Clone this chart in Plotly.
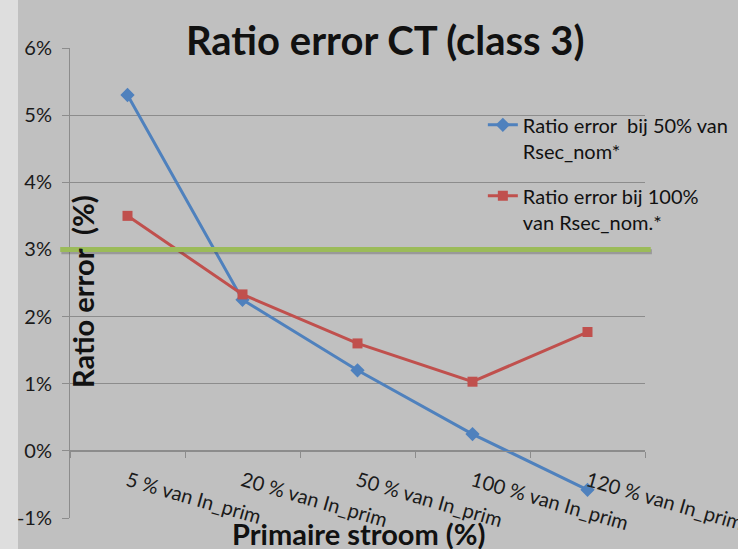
import plotly.graph_objects as go

categories = ["5 % van In_prim", "20 % van In_prim", "50 % van In_prim",
              "100 % van In_prim", "120 % van In_prim"]
ratio_50 = [5.3, 2.25, 1.2, 0.25, -0.58]
ratio_100 = [3.5, 2.33, 1.6, 1.03, 1.77]
limit = 3
y_ticks = [-1, 0, 1, 2, 3, 4, 5, 6]
y_tick_labels = [f"{v}%" for v in y_ticks]

name_50 = "Ratio error&nbsp; bij 50% van<br>Rsec_nom*"
name_100 = "Ratio error bij 100%<br>van Rsec_nom.*"

FONT = "Lato, 'Open Sans', sans-serif"
BG = "#c0c0c0"
GRID = "#8c8c8c"

fig = go.Figure()
fig.add_trace(go.Scatter(
    x=categories, y=ratio_50, name=name_50, mode="lines+markers",
    line=dict(color="#4f81bd", width=3),
    marker=dict(symbol="diamond", size=11, color="#4f81bd"),
    legendgroup="a"))
fig.add_trace(go.Scatter(
    x=categories, y=ratio_100, name=name_100, mode="lines+markers",
    line=dict(color="#c0504d", width=3),
    marker=dict(symbol="square", size=10, color="#c0504d"),
    legendgroup="b"))

# limit line (with soft shadow)
fig.add_shape(type="line", xref="paper", yref="y", x0=-0.015, x1=1.012,
              y0=limit - 0.035, y1=limit - 0.035,
              line=dict(color="rgba(80,80,80,0.35)", width=5), layer="above")
fig.add_shape(type="line", xref="paper", yref="y", x0=-0.017, x1=1.01,
              y0=limit, y1=limit,
              line=dict(color="#9bbb59", width=5), layer="above")

# light strip on the left
fig.add_shape(type="rect", xref="paper", yref="paper",
              x0=-80/575, x1=-52/575, y0=-1, y1=2,
              fillcolor="#dedede", line=dict(width=0), layer="below")

fig.update_layout(
    width=738, height=549,
    paper_bgcolor=BG, plot_bgcolor=BG,
    margin=dict(l=70, r=93, t=48, b=31, autoexpand=False),
    font=dict(family=FONT, color="#1a1a1a"),
    title=dict(text="<b>Ratio error CT (class 3)</b>", x=0.522, xanchor="center",
               y=0.925, yanchor="middle", yref="container",
               font=dict(size=40, color="#111", family=FONT)),
    xaxis=dict(type="category", range=[-0.5, 4.5], anchor="free",
               position=(518 - 451) / 470, automargin=False,
               showline=True, linecolor=GRID, linewidth=1,
               ticks="outside", tickson="boundaries", ticklen=6, tickcolor=GRID,
               tickangle=16, ticklabelstandoff=10, showgrid=False, zeroline=False,
               tickfont=dict(size=20, color="#1a1a1a")),
    yaxis=dict(range=[-1, 6], tickvals=y_ticks, ticktext=y_tick_labels,
               automargin=False,
               showgrid=True, gridcolor=GRID, gridwidth=1,
               showline=True, linecolor=GRID, linewidth=1,
               ticks="outside", ticklen=7, tickcolor=GRID, ticklabelstandoff=6,
               zeroline=False, tickfont=dict(size=20, color="#1a1a1a")),
    legend=dict(x=0.718, y=0.878, xanchor="left", yanchor="top",
                bgcolor="rgba(0,0,0,0)", traceorder="grouped", valign="top",
                tracegroupgap=16, font=dict(size=20, color="#111")),
    showlegend=True,
)

fig.add_annotation(text="<b>Ratio error&nbsp; (%)</b>", textangle=-90,
                   xref="paper", yref="paper", x=(82 - 70) / 575, y=(518 - 292) / 470,
                   xanchor="center", yanchor="middle",
                   showarrow=False, font=dict(size=29, color="#111"))
fig.add_annotation(text="<b>Primaire stroom (%)</b>",
                   xref="paper", yref="paper", x=(358 - 70) / 575, y=(518 - 533) / 470,
                   xanchor="center", yanchor="middle",
                   showarrow=False, font=dict(size=29, color="#111"))

fig.write_html("out.html", config={"displayModeBar": False},
               post_script="document.body.style.margin='0';")
